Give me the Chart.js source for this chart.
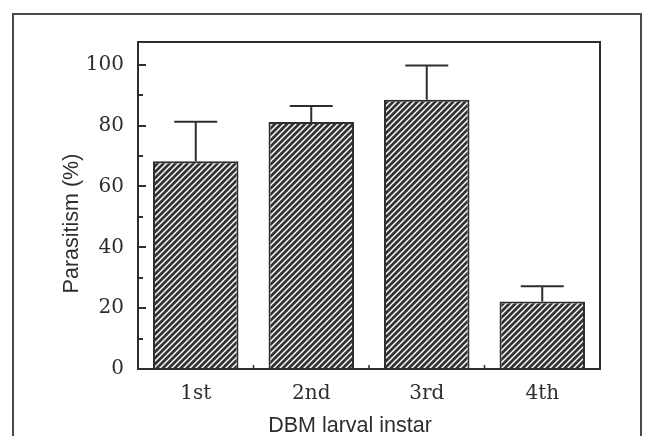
<!DOCTYPE html>
<html>
<head>
<meta charset="utf-8">
<script src="https://cdn.jsdelivr.net/npm/chart.js@4"></script>
<style>
  html, body { margin: 0; padding: 0; background: #fff; overflow: hidden; }
  #wrap { position: relative; width: 651px; height: 436px; }
  #frame { position: absolute; left: 12px; top: 13px; width: 630px; height: 460px;
           border: 2px solid #4a4a4a; box-sizing: border-box; }
  canvas { position: absolute; left: 0; top: 0; }
</style>
</head>
<body>
<div id="wrap">
  <div id="frame"></div>
  <canvas id="c" width="651" height="436"></canvas>
</div>
<script>
// Parasitism of DBM larvae by instar: mean and standard error (%)
const instars = ['1st', '2nd', '3rd', '4th'];
const parasitism = [68.3, 81.2, 88.5, 22.2];
const parasitismSE = [13.0, 5.3, 11.3, 5.0];
const yMajorStep = 20;
const yMinorStep = 10;
const yMax = 107.5;

const INK = '#2e2e2e';
const serif = { family: '"DejaVu Serif", "Liberation Serif", serif', size: 20 };
const sans = '"Liberation Sans", Arial, sans-serif';

// diagonal hatch fill (///)
function makeHatch(ctx) {
  const tile = document.createElement('canvas');
  tile.width = 6; tile.height = 6;
  const g = tile.getContext('2d');
  g.fillStyle = '#333333';
  g.fillRect(0, 0, 6, 6);
  g.strokeStyle = '#ffffff';
  g.lineWidth = 1.45;
  g.beginPath();
  g.moveTo(-1, 7); g.lineTo(7, -1);
  g.moveTo(-1, 1); g.lineTo(1, -1);
  g.moveTo(5, 7); g.lineTo(7, 5);
  g.stroke();
  return ctx.createPattern(tile, 'repeat');
}

// plot box, inward tick marks and upper error bars
const boxAndMarks = {
  id: 'boxAndMarks',
  afterDatasetsDraw(chart) {
    const { ctx, chartArea: a, scales: { x, y } } = chart;
    ctx.save();
    ctx.strokeStyle = INK;
    ctx.lineWidth = 2;
    ctx.lineCap = 'butt';

    // error bars
    parasitism.forEach((v, i) => {
      const cx = x.getPixelForValue(i);
      const y0 = y.getPixelForValue(v);
      const y1 = y.getPixelForValue(v + parasitismSE[i]);
      ctx.beginPath();
      ctx.moveTo(cx, y0); ctx.lineTo(cx, y1);
      ctx.moveTo(cx - 21.5, y1); ctx.lineTo(cx + 21.5, y1);
      ctx.stroke();
    });

    // frame around the plot area
    ctx.strokeRect(a.left, a.top, a.right - a.left, a.bottom - a.top);

    // y ticks pointing into the plot
    y.ticks.forEach(t => {
      const py = Math.round(y.getPixelForValue(t.value));
      const len = t.value % yMajorStep === 0 ? 8 : 5;
      ctx.beginPath();
      ctx.moveTo(a.left, py); ctx.lineTo(a.left + len, py);
      ctx.stroke();
    });

    // small x ticks between categories
    ctx.lineWidth = 1.5;
    const half = (x.getPixelForValue(1) - x.getPixelForValue(0)) / 2;
    for (let i = 0; i < instars.length - 1; i++) {
      const px = x.getPixelForValue(i) + half;
      ctx.beginPath();
      ctx.moveTo(px, a.bottom); ctx.lineTo(px, a.bottom - 4);
      ctx.stroke();
    }
    ctx.restore();
  },
  afterDraw(chart) {
    const { ctx, chartArea: a } = chart;
    ctx.save();
    ctx.fillStyle = INK;
    ctx.font = '21.5px ' + sans;
    ctx.textAlign = 'center';
    ctx.textBaseline = 'alphabetic';
    ctx.fillText('DBM larval instar', (a.left + a.right) / 2 - 19, 432);
    ctx.translate(78, (a.top + a.bottom) / 2 + 18);
    ctx.rotate(-Math.PI / 2);
    ctx.fillText('Parasitism (%)', 0, 0);
    ctx.restore();
  }
};

const canvas = document.getElementById('c');
const ctx = canvas.getContext('2d');

new Chart(ctx, {
  type: 'bar',
  data: {
    labels: instars,
    datasets: [{
      data: parasitism,
      backgroundColor: makeHatch(ctx),
      borderColor: INK,
      borderWidth: 2,
      borderSkipped: 'start',
      barPercentage: 0.74,
      categoryPercentage: 1.0
    }]
  },
  options: {
    responsive: false,
    animation: false,
    devicePixelRatio: 1,
    layout: { padding: { top: 42, right: 51, left: 0, bottom: 0 } },
    plugins: { legend: { display: false }, tooltip: { enabled: false } },
    scales: {
      x: {
        grid: { display: false },
        border: { display: false },
        ticks: { font: serif, color: INK, padding: 5 },
        afterFit(scale) { scale.height = 67; }
      },
      y: {
        min: 0,
        max: yMax,
        grid: { display: false, drawTicks: false },
        border: { display: false },
        ticks: {
          stepSize: yMinorStep,
          autoSkip: false,
          font: serif,
          color: INK,
          padding: 14,
          callback: v => (v % yMajorStep === 0 ? String(v) : '')
        },
        afterBuildTicks(scale) {
          scale.ticks = scale.ticks.filter(t => t.value % yMinorStep === 0);
        },
        afterFit(scale) { scale.width = 138; }
      }
    }
  },
  plugins: [boxAndMarks]
});
</script>
</body>
</html>
